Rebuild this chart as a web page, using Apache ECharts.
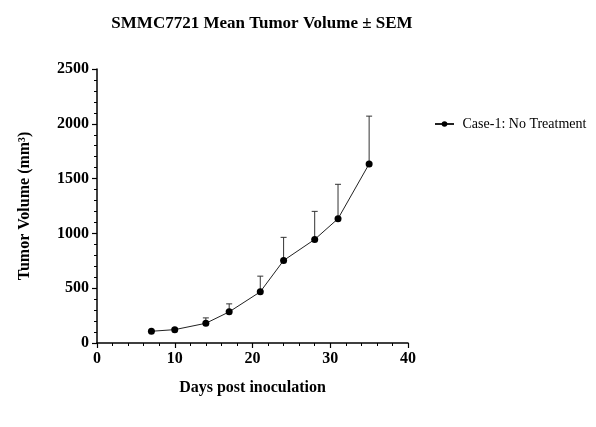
<!DOCTYPE html>
<html>
<head>
<meta charset="utf-8">
<script src="https://cdn.jsdelivr.net/npm/echarts@6/dist/echarts.min.js"></script>
<style>
  html, body { margin: 0; padding: 0; background: #fff; }
  #main { width: 596px; height: 427px; }
</style>
</head>
<body>
<div id="main"></div>
<script>
// data
var days = [7, 10, 14, 17, 21, 24, 28, 31, 35];
var meanVol = [107, 122, 180, 284, 467, 753, 945, 1134, 1634];
var semVol = [8, 12, 49, 73, 143, 211, 256, 314, 436];
var seriesName = 'Case-1: No Treatment';

var chart = echarts.init(document.getElementById('main'));
var serif = '"Liberation Serif", "Times New Roman", serif';

var lineData = days.map(function (d, i) { return [d, meanVol[i]]; });
var errData = days.map(function (d, i) { return [d, meanVol[i], meanVol[i] + semVol[i]]; });

//误差线
function renderErr(params, api) {
    var p0 = api.coord([api.value(0), api.value(1)]);
    var p1 = api.coord([api.value(0), api.value(2)]);
    var half = 3;
    var st = { stroke: '#333', lineWidth: 1 };
    return {
        type: 'group',
        children: [
            { type: 'line', shape: { x1: p0[0], y1: p0[1], x2: p1[0], y2: p1[1] }, style: st },
            { type: 'line', shape: { x1: p1[0] - half, y1: p1[1], x2: p1[0] + half, y2: p1[1] }, style: st }
        ]
    };
}

var axisCommon = {
    axisLine: { lineStyle: { color: '#000', width: 1.5 } },
    axisTick: { show: true, length: 5, lineStyle: { color: '#000', width: 1.2 } },
    minorTick: { show: true, splitNumber: 5, length: 3, lineStyle: { color: '#000', width: 1 } },
    splitLine: { show: false },
    axisLabel: { color: '#000', fontFamily: serif, fontWeight: 'bold', fontSize: 16, margin: 8,
        formatter: function (v) { return String(v); } },
    nameTextStyle: { color: '#000', fontFamily: serif, fontWeight: 'bold', fontSize: 16 }
};

var option = {
    animation: false,
    backgroundColor: '#fff',
    title: {
        text: 'SMMC7721 Mean Tumor Volume \u00b1 SEM',
        left: 257, top: 10, textAlign: 'center',
        textStyle: { color: '#000', fontFamily: serif, fontWeight: 'bold', fontSize: 17 }
    },
    legend: {
        data: [seriesName],
        left: 429, top: 112,
        itemWidth: 19, itemHeight: 7,
        formatter: function (n) { return ' ' + n; },
        textStyle: { color: '#000', fontFamily: serif, fontSize: 14 }
    },
    grid: { left: 97, right: 188, top: 69, bottom: 84 },
    xAxis: Object.assign({}, axisCommon, {
        type: 'value', min: 0, max: 40, interval: 10,
        name: 'Days post inoculation', nameLocation: 'middle', nameGap: 37
    }),
    yAxis: Object.assign({}, axisCommon, {
        type: 'value', min: 0, max: 2500, interval: 500,
        name: 'Tumor Volume (mm\u00b3)', nameLocation: 'middle', nameGap: 64
    }),
    series: [{
        name: seriesName,
        type: 'line',
        data: lineData,
        symbol: 'circle', symbolSize: 7,
        itemStyle: { color: '#000' },
        lineStyle: { color: '#222', width: 1 },
        z: 3
    }, {
        name: 'err',
        type: 'custom',
        renderItem: renderErr,
        data: errData,
        encode: { x: 0, y: [1, 2] },
        z: 2
    }]
};
chart.setOption(option);
</script>
</body>
</html>
